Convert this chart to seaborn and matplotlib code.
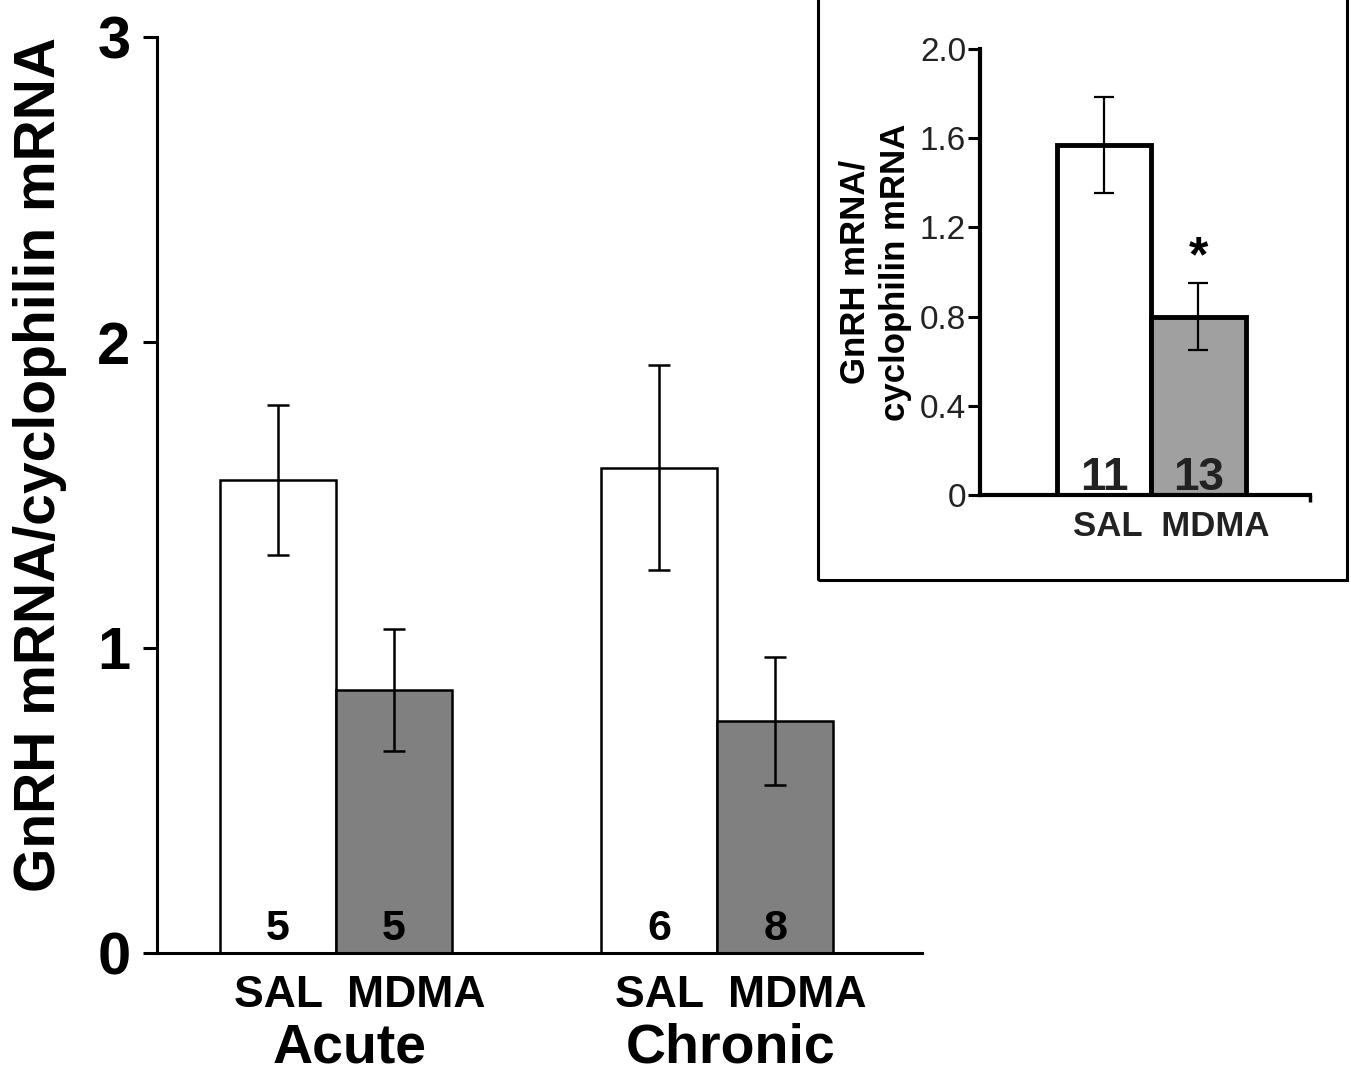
import pandas as pd
import seaborn as sns
import matplotlib.pyplot as plt
from matplotlib.patches import Rectangle

# main panel values
conditions = ['Acute', 'Chronic']
treatments = ['SAL', 'MDMA']
main_means = {'SAL': [1.55, 1.59], 'MDMA': [0.86, 0.76]}
main_sem = {'SAL': [0.245, 0.335], 'MDMA': [0.20, 0.21]}
main_n = {'SAL': [5, 6], 'MDMA': [5, 8]}
main_yticks = [0, 1, 2, 3]

# inset (pooled) values
inset_means = [1.57, 0.80]
inset_sem = [0.215, 0.15]
inset_n = [11, 13]
inset_yticks = [0, 0.4, 0.8, 1.2, 1.6, 2.0]
inset_ylabels = ['0', '0.4', '0.8', '1.2', '1.6', '2.0']

sns.set_style('ticks')
plt.rcParams['font.family'] = ['Liberation Sans', 'DejaVu Sans']
plt.rcParams.update({'text.color': 'black', 'axes.labelcolor': 'black',
                     'xtick.color': 'black', 'ytick.color': 'black',
                     'axes.edgecolor': 'black'})

fig = plt.figure(figsize=(13.51, 10.76), dpi=100)

# ---- main panel ----
rows = []
for t in treatments:
    for i, c in enumerate(conditions):
        rows.append({'condition': c, 'treatment': t, 'value': main_means[t][i]})
df = pd.DataFrame(rows)

ax = fig.add_axes([157 / 1351, 1 - 953 / 1076, (922 - 157) / 1351, (953 - 37) / 1076])
sns.barplot(data=df, x='condition', y='value', hue='treatment', hue_order=treatments,
            palette={'SAL': 'white', 'MDMA': '#808080'}, width=0.61,
            edgecolor='black', linewidth=1.8, errorbar=None, legend=False,
            saturation=1, ax=ax)
for t, cont in zip(treatments, ax.containers):
    for i, p in enumerate(cont.patches):
        xc = p.get_x() + p.get_width() / 2
        ax.errorbar(xc, p.get_height(), yerr=main_sem[t][i], color='black',
                    elinewidth=1.8, capsize=8, capthick=1.8, zorder=5)
        ax.text(xc, 0.043, str(main_n[t][i]), ha='center', va='baseline',
                fontsize=31, fontweight='bold')

ax.set_xlim(-0.47, 1.538)
ax.set_ylim(0, 3)
ax.set_yticks(main_yticks)
ax.set_yticklabels([str(v) for v in main_yticks], fontsize=43, fontweight='bold')
ax.set_xticks([])
ax.set_xlabel('')
ax.set_ylabel('GnRH mRNA/cyclophilin mRNA', fontsize=41, fontweight='bold')
ax.yaxis.set_label_coords(-0.117, 0.533)
ax.tick_params(axis='y', direction='out', length=10, width=2.2, pad=9)
sns.despine(ax=ax)
ax.spines['left'].set_linewidth(2.2)
ax.spines['bottom'].set_linewidth(2.2)

for i, c in enumerate(conditions):
    ax.text(i + 0.063, -0.072, 'SAL  MDMA', ha='center', va='top',
            fontsize=32, fontweight='bold', clip_on=False)
    ax.text(i + 0.035, -0.228, c, ha='center', va='top',
            fontsize=40, fontweight='bold', clip_on=False)

# ---- inset box ----
fig.add_artist(Rectangle((818 / 1351, 1 - 580 / 1076), (1347 - 818) / 1351, 0.6,
                         transform=fig.transFigure, fill=False, edgecolor='black',
                         linewidth=2.2))

# ---- inset panel ----
dfi = pd.DataFrame({'treatment': treatments, 'value': inset_means})
axi = fig.add_axes([980 / 1351, 1 - 495 / 1076, (1310 - 980) / 1351, (495 - 49) / 1076])
sns.barplot(data=dfi, x='treatment', y='value', hue='treatment', order=treatments,
            palette={'SAL': 'white', 'MDMA': '#a0a0a0'}, width=1.0,
            edgecolor='black', linewidth=3.5, errorbar=None, legend=False,
            saturation=1, ax=axi)
bars = [c.patches[0] for c in axi.containers]
for k, p in enumerate(bars):
    xc = p.get_x() + p.get_width() / 2
    axi.errorbar(xc, p.get_height(), yerr=inset_sem[k], color='black',
                 elinewidth=1.6, capsize=7, capthick=1.6, zorder=5)
    axi.text(xc, 0.022, str(inset_n[k]), ha='center', va='baseline',
             fontsize=33, fontweight='bold', color='#222222')
axi.text(1, inset_means[1] + inset_sem[1] + 0.01, '*', ha='center', va='bottom',
         fontsize=36, fontweight='bold')

axi.set_xlim(-1.324, 2.186)
axi.set_ylim(0, 2.0)
axi.set_yticks(inset_yticks)
axi.set_yticklabels(inset_ylabels, fontsize=24, color='#222222')
axi.set_xticks([2.186])
axi.set_xticklabels([''])
axi.set_xlabel('')
axi.set_ylabel('GnRH mRNA/\ncyclophilin mRNA', fontsize=25, fontweight='bold',
               linespacing=1.3)
axi.yaxis.set_label_coords(-0.205, 0.5)
axi.tick_params(axis='y', direction='out', length=9, width=2.2, pad=1)
axi.tick_params(axis='x', direction='out', length=5, width=2.5)
sns.despine(ax=axi)
axi.spines['left'].set_linewidth(3)
axi.spines['bottom'].set_linewidth(3)
axi.text(0.71, -0.034, 'SAL  MDMA', ha='center', va='top', fontsize=25,
         fontweight='bold', color='#222222', transform=axi.get_xaxis_transform(),
         clip_on=False)

fig.savefig('out.png', dpi=100, facecolor='white')
